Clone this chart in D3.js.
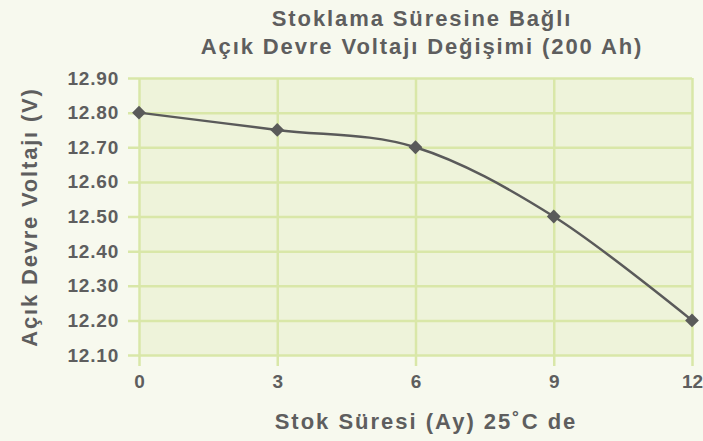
<!DOCTYPE html>
<html>
<head>
<meta charset="utf-8">
<script src="https://cdn.jsdelivr.net/npm/d3@7"></script>
<style>
  body { margin: 0; background: #f7f9ee; }
  text { font-family: "Liberation Sans", Arial, sans-serif; font-weight: bold; fill: #5e5e5e; }
</style>
</head>
<body>
<script>
// chart data
var months = [0, 3, 6, 9, 12];
var voltage = [12.80, 12.75, 12.70, 12.50, 12.20];
var yTicks = [12.10, 12.20, 12.30, 12.40, 12.50, 12.60, 12.70, 12.80, 12.90];
var titleLines = ["Stoklama Süresine Bağlı", "Açık Devre Voltajı Değişimi (200 Ah)"];

var width = 703, height = 441;
var plotLeft = 139, plotRight = 692, plotTop = 78, plotBottom = 355;

var svg = d3.select("body").append("svg")
    .attr("width", width)
    .attr("height", height);

var x = d3.scaleLinear().domain([0, 12]).range([plotLeft, plotRight]);
var y = d3.scaleLinear().domain([12.10, 12.90]).range([plotBottom, plotTop]);

//plot area
svg.append("rect")
    .attr("x", plotLeft).attr("y", plotTop)
    .attr("width", plotRight - plotLeft).attr("height", plotBottom - plotTop)
    .attr("fill", "#eef3da");

//horizontal grid with tick labels
var yAxis = d3.axisLeft(y)
    .tickValues(yTicks)
    .tickSize(-(plotRight - plotLeft))
    .tickPadding(20)
    .tickFormat(d3.format(".2f"));
var gy = svg.append("g")
    .attr("transform", "translate(" + plotLeft + ",0)")
    .call(yAxis);
gy.select(".domain").remove();
gy.selectAll("line")
    .attr("x1", -11)
    .attr("stroke", "#d9e7a8")
    .attr("stroke-width", 2.5);
gy.selectAll("text")
    .style("font-size", "19px")
    .style("letter-spacing", "0.8px")
    .attr("fill", "#5e5e5e");

//vertical grid with tick labels
var xAxis = d3.axisBottom(x)
    .tickValues(months)
    .tickSize(-(plotBottom - plotTop))
    .tickPadding(20)
    .tickFormat(d3.format("d"));
var gx = svg.append("g")
    .attr("transform", "translate(0," + plotBottom + ")")
    .call(xAxis);
gx.select(".domain").remove();
gx.selectAll("line")
    .attr("y1", 11)
    .attr("stroke", "#d9e7a8")
    .attr("stroke-width", 2.5);
gx.selectAll("text")
    .style("font-size", "19px")
    .attr("fill", "#5e5e5e");

//line
var pts = months.map(function(m, i) { return [m, voltage[i]]; });
var line = d3.line()
    .x(function(d) { return x(d[0]); })
    .y(function(d) { return y(d[1]); })
    .curve(d3.curveCardinal.tension(0));
svg.append("path")
    .datum(pts)
    .attr("d", line)
    .attr("fill", "none")
    .attr("stroke", "#5a5a5a")
    .attr("stroke-width", 2.5);

//diamond markers
svg.selectAll(".pt")
    .data(pts)
    .enter()
    .append("path")
    .attr("class", "pt")
    .attr("d", d3.symbol().type(d3.symbolSquare).size(95))
    .attr("transform", function(d) {
        return "translate(" + x(d[0]) + "," + y(d[1]) + ") rotate(45)";
    })
    .attr("fill", "#5a5a5a");

//title
svg.selectAll(".title")
    .data(titleLines)
    .enter()
    .append("text")
    .attr("class", "title")
    .attr("x", 422)
    .attr("y", function(d, i) { return 26 + i * 28; })
    .style("text-anchor", "middle")
    .style("font-size", "22px")
    .style("letter-spacing", "1.9px")
    .text(function(d) { return d; });

//axis titles
svg.append("text")
    .attr("x", 426)
    .attr("y", 429)
    .style("text-anchor", "middle")
    .style("font-size", "22px")
    .style("letter-spacing", "2px")
    .text("Stok Süresi (Ay) 25˚C de");

svg.append("text")
    .attr("transform", "translate(37,217) rotate(-90)")
    .style("text-anchor", "middle")
    .style("font-size", "22px")
    .style("letter-spacing", "1.8px")
    .text("Açık Devre Voltajı (V)");
</script>
</body>
</html>
